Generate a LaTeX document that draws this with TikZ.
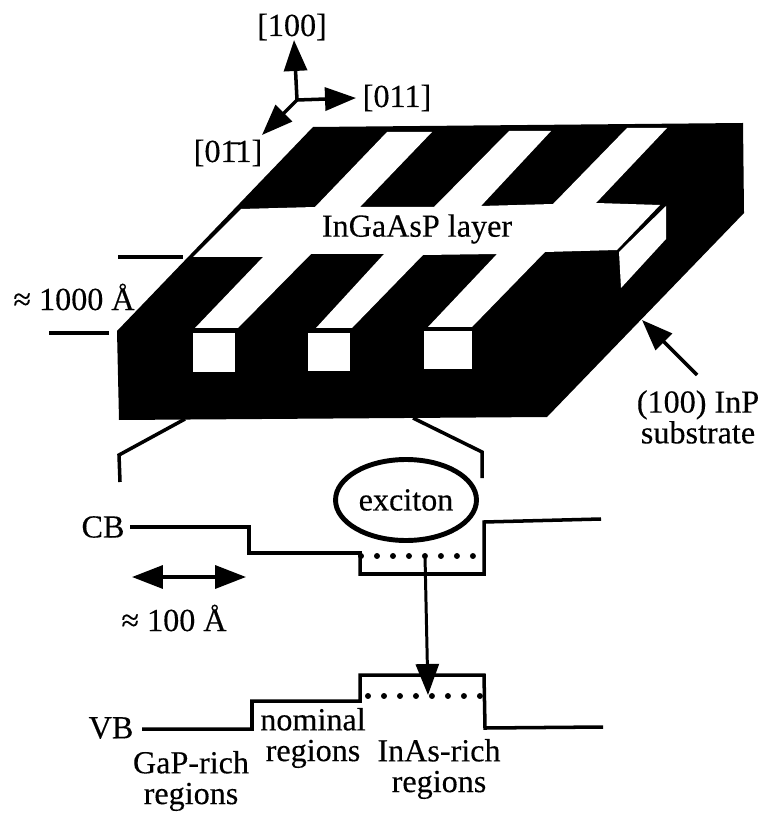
\documentclass[tikz,border=0pt]{standalone}
\usepackage{fontspec}
\setmainfont{Liberation Serif}[FakeBold=0.3]
\usetikzlibrary{arrows.meta,shapes.geometric}

\begin{document}
\begin{tikzpicture}[x=0.02cm, y=-0.02cm, font=\fontsize{18.3}{17.5}\selectfont,
label/.style={inner sep=0pt, align=center},
level/.style={line width=2pt, line join=miter},
dots/.style={line width=3.4pt, line cap=round, dash pattern=on 0pt off 9.1pt},
arrow/.style={line width=2pt, -{Triangle[length=0.62cm, width=0.46cm]}},
wide/.style={line width=2pt, {Triangle[length=0.62cm, width=0.46cm]}-{Triangle[length=0.62cm, width=0.46cm]}},
tick/.style={line width=1.8pt}]
\useasboundingbox (0,0) rectangle (764,813);
% substrate
\fill[black] (117,331) -- (313,127) -- (743,123) -- (744,213) -- (547,417) -- (119,420) -- cycle;
% layer, top face
\fill[white] (241,209) -- (315,207) -- (387,132) -- (432,132) -- (360,207) -- (434,207) -- (509,131) -- (551,131) -- (481,206) -- (553,204) -- (627,128) -- (667,128) -- (596,203) -- (660,205) -- (617,250) -- (545,252) -- (472,327) -- (428,327) -- (497,254) -- (423,255) -- (352,328) -- (316,328) -- (384,254) -- (311,254) -- (238,328) -- (195,328) -- (263,257) -- (193,257) -- cycle;
% end faces
\fill[white] (666,206) -- (666,239) -- (621,288) -- (619,252) -- cycle;
\fill[white] (193,333) rectangle (235,372);
\fill[white] (308,333) rectangle (350,371);
\fill[white] (424,331) rectangle (472,369);
\node[label] (layer) at (417,229) {InGaAsP layer};
% axes
\coordinate (origin) at (297,100);
\coordinate (up) at (294,40);
\coordinate (side) at (356,98);
\coordinate (front) at (262,135);
\draw[arrow] (origin) -- (up);
\draw[arrow] (origin) -- (side);
\draw[arrow] (origin) -- (front);
\node[label] (dirA) at (292,27) {[100]};
\node[label] (dirB) at (397,98) {[011]};
\node[label] (dirC) at (228,153) {[0\=11]};
% thickness
\coordinate (topA) at (118,257);
\coordinate (topB) at (183,257);
\coordinate (botA) at (49,333);
\coordinate (botB) at (109,333);
\draw[tick] (topA) -- (topB);
\draw[tick] (botA) -- (botB);
\node[label] (thick) at (74,297) {≈ 1000 Å};
% substrate label
\node[label] (subs) at (698,417) {(100) InP\\substrate};
\coordinate (subsTail) at (697,375);
\coordinate (subsTip) at (642,320);
\draw[arrow] (subsTail) -- (subsTip);
% zoom lines
\draw[level] (185,419) -- (119,455) -- (120,482);
\draw[level] (413,418) -- (482,452) -- (482,478);
\node[draw, ellipse, line width=2.8pt, minimum width=2.82cm, minimum height=1.62cm, inner sep=0pt] (exciton) at (406,500) {exciton};
% conduction band
\node[label] (cb) at (103,527) {CB};
\draw[level] (130,527) -- (249,527) -- (249,553) -- (360,553) -- (360,574) -- (484,574) -- (484,522) -- (601,519);
\draw[dots] (361,556) -- (475,556);
% valence band
\node[label] (vb) at (111,728) {VB};
\draw[level] (142,729) -- (252,729) -- (252,701) -- (360,701) -- (360,675) -- (484,675) -- (485,728) -- (603,727);
\draw[dots] (368,696) -- (482,696);
% transition
\coordinate (upper) at (425,556);
\coordinate (lower) at (428,695);
\draw[arrow, line width=1.7pt] (upper) -- (lower);
% scale
\coordinate (scaleA) at (132,577);
\coordinate (scaleB) at (246,577);
\draw[wide] (scaleA) -- (scaleB);
\node[label] (scale) at (174,618) {≈ 100 Å};
% regions
\node[label] (nominal) at (313,738) {nominal\\regions};
\node[label] (inas) at (439,769) {InAs-rich\\regions};
\node[label] (gap) at (191,781) {GaP-rich\\regions};
\end{tikzpicture}
\end{document}
